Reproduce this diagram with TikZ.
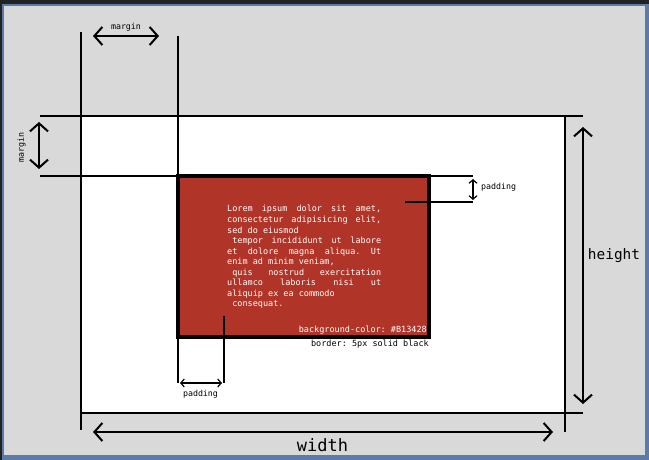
\documentclass[tikz,border=0pt]{standalone}
\usepackage{fontspec}
\usepackage{tikz}
\usetikzlibrary{arrows.meta}
\newfontfamily\monofont{DejaVu Sans Mono}
\definecolor{boxred}{HTML}{B13428}
\definecolor{pagegray}{HTML}{D9D9D9}
\definecolor{framebg}{HTML}{222222}
\definecolor{frameblue}{HTML}{5B7BA8}
\frenchspacing
% one justified line of mono text
\newcommand{\jline}[1]{\hbox to \hsize{\spaceskip=0.602em plus 1fil\relax #1}}
% one plain line of mono text
\newcommand{\pline}[1]{\hbox{\spaceskip=0.602em\relax #1}}

\begin{document}
\begin{tikzpicture}[
    x=1pt,y=-1pt,
    line/.style={line width=2.2pt},
    dim/.style={line width=2pt,{Straight Barb[length=8pt,width=18pt]}-{Straight Barb[length=8pt,width=18pt]}},
    smalldim/.style={line width=1.2pt,{Straight Barb[length=3.5pt,width=8pt]}-{Straight Barb[length=3.5pt,width=8pt]}},
    lbl/.style={font=\monofont\fontsize{8.3}{10}\selectfont,inner sep=0pt},
    font=\monofont
  ]
  %% window frame
  \useasboundingbox (0,0) rectangle (649,460);
  \fill[framebg] (0,0) rectangle (649,460);
  \fill[frameblue] (2,4) rectangle (649,460);
  \fill[pagegray] (4,6) rectangle (645,455);

  %% outer box (margin area)
  \fill[white] (81,116) rectangle (565,413);
  \draw[line] (81,32) -- (81,430);
  \draw[line] (178,36) -- (178,383);
  \draw[line] (565,116) -- (565,432);
  \draw[line] (40,116) -- (583,116);
  \draw[line] (40,176) -- (473,176);
  \draw[line] (81,413) -- (583,413);

  %% content box
  \draw[line width=3.2pt,fill=boxred] (178,176) rectangle (429,337);
  \node[anchor=north west,text width=154pt,inner sep=0pt,text=white,
        font=\monofont\fontsize{8.5}{10.55}\selectfont] (lorem) at (227,205.2) {%
    \jline{Lorem ipsum dolor sit amet,}
    \jline{consectetur adipisicing elit,}
    \pline{sed do eiusmod}
    \jline{\kern0.602em tempor incididunt ut labore}
    \jline{et dolore magna aliqua. Ut}
    \pline{enim ad minim veniam,}
    \jline{\kern0.602em quis nostrud exercitation}
    \jline{ullamco laboris nisi ut}
    \pline{aliquip ex ea commodo}
    \pline{\kern0.602em consequat.}};
  \node[anchor=base east,inner sep=0pt,text=white,font=\monofont\fontsize{8.5}{10}\selectfont]
    (bgcol) at (427,332.5) {background-color: \#B13428};
  \node[anchor=base east,inner sep=0pt,font=\monofont\fontsize{8.5}{10}\selectfont]
    (border) at (429,346.5) {border: 5px solid black};

  %% padding markers
  \draw[line] (405,202) -- (473,202);
  \draw[line] (224,316) -- (224,383);

  %% dimension arrows
  \coordinate (mtl) at (93,36);   \coordinate (mtr) at (159,36);
  \coordinate (mlt) at (39,122);  \coordinate (mlb) at (39,169);
  \coordinate (ptt) at (473,179); \coordinate (ptb) at (473,200);
  \coordinate (pbl) at (180,383); \coordinate (pbr) at (222,383);
  \coordinate (ht)  at (583,127); \coordinate (hb)  at (583,404);
  \coordinate (wl)  at (93,432);  \coordinate (wr)  at (553,432);
  \draw[dim] (mtl) -- (mtr);
  \draw[dim] (mlt) -- (mlb);
  \draw[smalldim] (ptt) -- (ptb);
  \draw[smalldim] (pbl) -- (pbr);
  \draw[dim] (ht) -- (hb);
  \draw[dim] (wl) -- (wr);

  %% labels
  \node[lbl] (mtop) at (126,27.5) {margin};
  \node[lbl,rotate=90] (mleft) at (21.5,147.5) {margin};
  \node[lbl,anchor=west] (ptop) at (481,187) {padding};
  \node[lbl] (pbot) at (200.5,394) {padding};
  \node[font=\monofont\fontsize{14.4}{16}\selectfont,inner sep=0pt] (hlbl) at (614,256) {height};
  \node[font=\monofont\fontsize{17}{19}\selectfont,inner sep=0pt] (wlbl) at (322.5,445) {width};
\end{tikzpicture}
\end{document}
